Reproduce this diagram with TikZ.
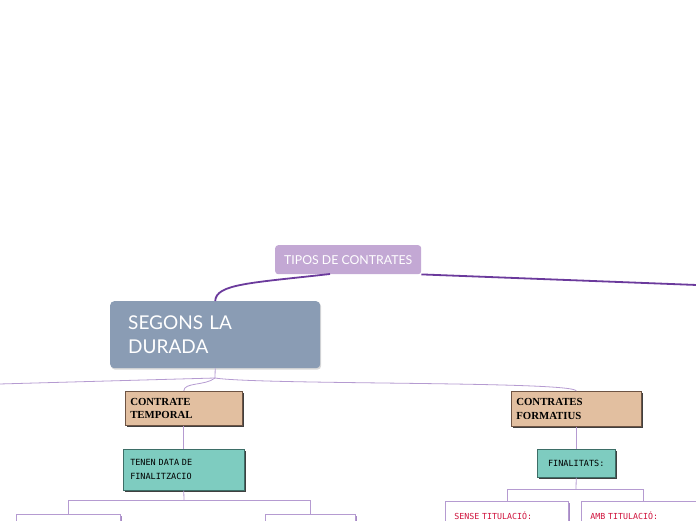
\documentclass[tikz,border=0pt]{standalone}
\usepackage{fontspec}
\setmainfont{Lato}
\newfontfamily\capserif{Liberation Serif}
\newfontfamily\capmono{DejaVu Sans Mono}
\usepackage{tikz}
\usetikzlibrary{positioning,shadows}
\definecolor{rootlila}{HTML}{C3A8D4}
\definecolor{troncmorat}{HTML}{6B3A9C}
\definecolor{duradablau}{HTML}{8A9CB4}
\definecolor{brancalila}{HTML}{B59BD1}
\definecolor{tipustan}{HTML}{E2BFA0}
\definecolor{tipusvora}{HTML}{6E5444}
\definecolor{notaverd}{HTML}{7ECCC0}
\definecolor{notavora}{HTML}{3D6E67}
\definecolor{titolvermell}{HTML}{D0123C}

\tikzset{
  root/.style={anchor=north west, fill=rootlila, rounded corners=3pt, text=white,
    font=\fontsize{12.3}{14}\selectfont, minimum width=146pt, minimum height=29pt, inner sep=0pt},
  durada/.style={anchor=north west, fill=duradablau, rounded corners=4pt, text=white,
    font=\fontsize{19}{24}\selectfont, minimum width=210pt, minimum height=67pt,
    text width=174pt, inner xsep=18pt, align=left,
    drop shadow={shadow xshift=1pt, shadow yshift=-1.5pt, fill=black, opacity=0.15}},
  tipus/.style={anchor=north west, fill=tipustan, draw=tipusvora, line width=0.5pt,
    font=\capserif\bfseries\fontsize{10.8}{13.5}\selectfont, align=left, inner xsep=5pt,
    drop shadow={shadow xshift=2pt, shadow yshift=-2pt, fill=black, opacity=0.75}},
  nota/.style={anchor=north west, fill=notaverd, draw=notavora, line width=0.5pt,
    font=\capmono\fontsize{8.5}{14}\selectfont, align=left, inner xsep=7pt,
    drop shadow={shadow xshift=2pt, shadow yshift=-2pt, fill=black, opacity=0.75}},
  fulla/.style={anchor=north west, fill=white, draw=brancalila, line width=0.8pt,
    text=titolvermell, font=\capmono\fontsize{8.3}{11}\selectfont, align=left,
    inner xsep=9pt, inner ysep=10pt,
    drop shadow={shadow xshift=1.5pt, shadow yshift=-1.5pt, fill=troncmorat, opacity=0.6}},
  tronc/.style={draw=troncmorat, line width=1.8pt},
  branca/.style={draw=brancalila, line width=0.8pt},
}

\begin{document}
\begin{tikzpicture}[x=1pt, y=-1pt]
  \useasboundingbox (0,0) rectangle (696,520);
  \clip (0,0) rectangle (696,520);

  % idea central
  \node[root] (tipos) at (275,245) {TIPOS DE CONTRATES};
  \coordinate (fora) at (697,285);
  \coordinate (sortida) at (330,274);

  \node[durada] (segons) at (110,301) {SEGONS LA\\DURADA};

  \coordinate (nus) at (215,378);
  \coordinate (esquerra) at (-1,384);

  % dues branques
  \node[tipus, minimum width=117pt, minimum height=34pt, text width=107pt] (temporal) at (125,391) {CONTRATE\\TEMPORAL};
  \node[nota, minimum width=121pt, minimum height=41pt, text width=107pt] (datafi) at (123,449) {TENEN DATA DE\\FINALITZACIO};
  \node[tipus, minimum width=130pt, minimum height=35pt, text width=120pt] (formatius) at (511,391) {CONTRATES\\FORMATIUS};
  \node[nota, minimum width=78pt, minimum height=28pt] (finalitats) at (537,449) {FINALITATS:};

  % fulles
  \node[fulla, minimum width=104pt, minimum height=30pt] (fullaA) at (16,514) {};
  \node[fulla, minimum width=90pt, minimum height=30pt] (fullaB) at (265,514) {};
  \node[fulla, minimum width=123pt, text width=105pt] (sense) at (445,501) {SENSE TITULACIÓ:};
  \node[fulla, minimum width=124pt, text width=106pt] (amb) at (581,501) {AMB TITULACIÓ:};

  \coordinate (nusA) at (184,500);
  \coordinate (nusB) at (576,489);

  % connexions
  \draw[tronc] (sortida) .. controls (250,283) and (216,284) .. (segons.north);
  \draw[tronc] (tipos.south east) -- (fora);

  \draw[branca] (segons.south) -- (nus);
  \draw[branca] (nus) -- (esquerra);
  \draw[branca] (nus) .. controls (205,386) and (184,382) .. (temporal.north);
  \draw[branca] (nus) .. controls (260,385) and (575,381) .. (formatius.north);

  \draw[branca] (temporal.south) -- (datafi.north);
  \draw[branca] (datafi.south) -- (nusA);
  \draw[branca] (nusA) -| (fullaA.north);
  \draw[branca] (nusA) -| (fullaB.north);

  \draw[branca] (formatius.south) -- (finalitats.north);
  \draw[branca] (finalitats.south) -- (nusB);
  \draw[branca] (nusB) -| (sense.north);
  \draw[branca] (nusB) -| (amb.north);
\end{tikzpicture}
\end{document}
